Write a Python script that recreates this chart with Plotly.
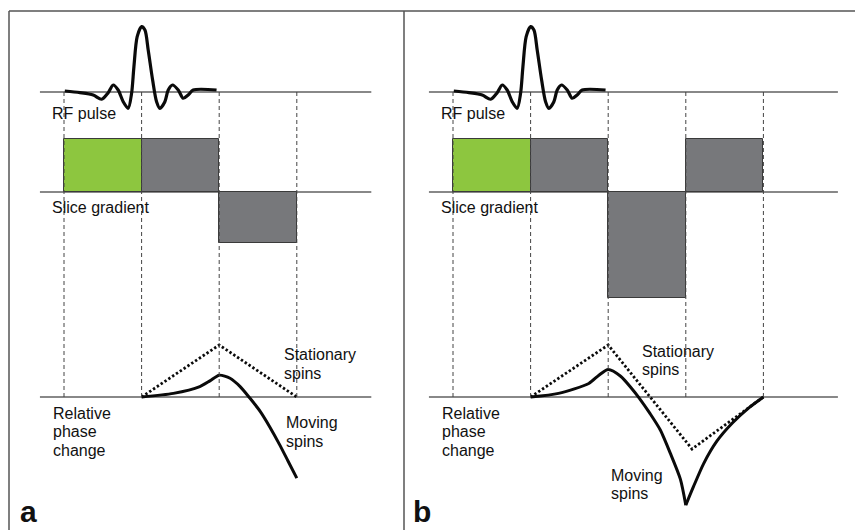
import plotly.graph_objects as go

# ---------------- data (time in gradient-lobe units, amplitudes relative) ----------------
rf_t = [0.01, 0.205, 0.376, 0.485, 0.57, 0.634, 0.698, 0.763, 0.827, 0.871, 0.901, 0.943,
        1.0, 1.043, 1.085, 1.142, 1.193, 1.236, 1.30, 1.343, 1.399, 1.472, 1.536, 1.60,
        1.665, 1.966]
rf_amp = [0.015, -0.01, -0.045, -0.11, -0.01, 0.106, 0.03, -0.147, -0.247, -0.02, 0.383, 0.838,
          0.99, 0.939, 0.636, 0.182, -0.147, -0.247, -0.147, 0.03, 0.106, 0.03, -0.095, -0.045,
          0.03, 0.03]

grad_a = [1, 1, -0.96]
grad_b = [1, 1, -2, 1]
lobe_kind_a = ["slice", "rephase", "dephase"]
lobe_kind_b = ["slice", "rephase", "dephase", "rephase"]

stat_a_t = [1, 2, 3]
stat_a = [0, 1, 0]
move_a_t = [1.0, 1.41, 1.75, 1.88, 2.0, 2.14, 2.27, 2.40, 2.53, 2.65, 2.78, 2.89, 3.0]
move_a = [0, 0.07, 0.2, 0.31, 0.42, 0.36, 0.2, -0.03, -0.28, -0.57, -0.92, -1.24, -1.56]

stat_b_t = [1, 2, 3.08, 4]
stat_b = [0, 1, -1, 0]
move_b_t = [1.0, 1.36, 1.75, 1.88, 2.0, 2.16, 2.30, 2.40, 2.54, 2.67, 2.80, 2.93, 3.0,
            3.10, 3.23, 3.40, 3.60, 3.82, 4.0]
move_b = [0, 0.07, 0.26, 0.42, 0.53, 0.4, 0.17, -0.02, -0.32, -0.63, -1.08, -1.58, -2.08,
          -1.72, -1.28, -0.85, -0.5, -0.2, 0]
move_b_vertex = 12

row_labels = ["RF pulse", "Slice gradient"]
phase_label = ["Relative", "phase", "change"]
stat_label = ["Stationary", "spins"]
move_label = ["Moving", "spins"]
panel_labels = ["a", "b"]

# ---------------- layout geometry (pixels) ----------------
W, H = 855, 530
PX = 77.6                      # pixels per lobe
SPLIT = 404                    # panel separator
ORIG_A, ORIG_B = 64, 453       # pixel of t = 0
RF_BASE, RF_SCALE = 92, 66
GR_BASE, GR_SCALE = 192, 53
PH_BASE, PH_SCALE = 397, 52

GREEN = "#8dc63f"
GREY = "#77787b"
INK = "#0a0a0a"
TXT = "#111111"
LINE = "#606060"
FONT = "Liberation Sans, Arial, sans-serif"


def xrange(orig, left, right):
    return [(left - orig) / PX, (right - orig) / PX]


def yrange(base, scale):
    return [(base - H) / scale, base / scale]


fig = go.Figure()

color_map = {"slice": GREEN, "rephase": GREY, "dephase": GREY}

for xa, grad, kinds in [("x", grad_a, lobe_kind_a), ("x2", grad_b, lobe_kind_b)]:
    fig.add_trace(go.Bar(
        x=[i + 0.5 for i in range(len(grad))], y=grad, width=1, base=0,
        marker=dict(color=[color_map[k] for k in kinds], line=dict(color="#3a3a3a", width=1)),
        xaxis=xa, yaxis="y2", showlegend=False, hoverinfo="skip"))

for xa in ["x", "x2"]:
    fig.add_trace(go.Scatter(
        x=rf_t, y=rf_amp, mode="lines", line=dict(color=INK, width=3.2, shape="spline", smoothing=0.8),
        xaxis=xa, yaxis="y", showlegend=False, hoverinfo="skip"))

dot = dict(color=INK, width=2.8, dash="2.4px,2.2px")
fig.add_trace(go.Scatter(x=stat_a_t, y=stat_a, mode="lines", line=dot,
                         xaxis="x", yaxis="y3", showlegend=False, hoverinfo="skip"))
fig.add_trace(go.Scatter(x=stat_b_t, y=stat_b, mode="lines", line=dot,
                         xaxis="x2", yaxis="y3", showlegend=False, hoverinfo="skip"))

solid = dict(color=INK, width=3, shape="spline", smoothing=0.7)
fig.add_trace(go.Scatter(x=move_a_t, y=move_a, mode="lines", line=solid,
                         xaxis="x", yaxis="y3", showlegend=False, hoverinfo="skip"))
fig.add_trace(go.Scatter(x=move_b_t[:move_b_vertex + 1], y=move_b[:move_b_vertex + 1], mode="lines",
                         line=solid, xaxis="x2", yaxis="y3", showlegend=False, hoverinfo="skip"))
fig.add_trace(go.Scatter(x=move_b_t[move_b_vertex:], y=move_b[move_b_vertex:], mode="lines",
                         line=solid, xaxis="x2", yaxis="y3", showlegend=False, hoverinfo="skip"))

shapes = []
# baselines
for xa, n in [("x", len(grad_a)), ("x2", len(grad_b))]:
    for ya in ["y", "y2", "y3"]:
        shapes.append(dict(type="line", xref=xa, yref=ya, x0=-0.31, x1=n + 0.96, y0=0, y1=0,
                           line=dict(color=LINE, width=1.6), layer="below"))
    # dashed verticals
    for k in range(n + 1):
        shapes.append(dict(type="line", xref=xa, yref="paper", x0=k, x1=k,
                           y0=1 - PH_BASE / H, y1=1 - RF_BASE / H,
                           line=dict(color="#444444", width=1, dash="4px,3px"), layer="above"))
# frame lines
frame = dict(color="#555555", width=1.5)
shapes.append(dict(type="line", xref="paper", yref="paper", x0=9 / W, x1=1, y0=1 - 11 / H, y1=1 - 11 / H, line=frame))
shapes.append(dict(type="line", xref="paper", yref="paper", x0=9 / W, x1=9 / W, y0=0, y1=1 - 11 / H, line=frame))
shapes.append(dict(type="line", xref="paper", yref="paper", x0=SPLIT / W, x1=SPLIT / W, y0=0, y1=1 - 11 / H, line=frame))

ann = []


def label(text, px, py, size=16, bold=False, yanchor="middle"):
    ann.append(dict(text=f"<b>{text}</b>" if bold else text, xref="paper", yref="paper",
                    x=px / W, y=1 - py / H, xanchor="left", yanchor=yanchor, showarrow=False,
                    font=dict(family=FONT, size=size, color=TXT)))


for dx in [0, 389]:
    label(row_labels[0], 50 + dx, 113)
    label(row_labels[1], 50 + dx, 207)
    for i, t in enumerate(phase_label):
        label(t, 51 + dx, 413 + 18.5 * i)

for i, t in enumerate(stat_label):
    label(t, 282, 354 + 19 * i)
for i, t in enumerate(move_label):
    label(t, 284, 422 + 19 * i)
for i, t in enumerate(stat_label):
    label(t, 640, 351 + 18 * i)
for i, t in enumerate(move_label):
    label(t, 609, 475 + 18 * i)

label(panel_labels[0], 18, 530, size=30, bold=True, yanchor="bottom")
label(panel_labels[1], 411, 530, size=30, bold=True, yanchor="bottom")

ax_common = dict(visible=False, showgrid=False, zeroline=False, fixedrange=True)
fig.update_layout(
    width=W, height=H, margin=dict(l=0, r=0, t=0, b=0),
    paper_bgcolor="white", plot_bgcolor="rgba(0,0,0,0)",
    barmode="overlay", bargap=0,
    xaxis=dict(domain=[0, SPLIT / W], range=xrange(ORIG_A, 0, SPLIT), **ax_common),
    xaxis2=dict(domain=[SPLIT / W, 1], range=xrange(ORIG_B, SPLIT, W), **ax_common),
    yaxis=dict(domain=[0, 1], range=yrange(RF_BASE, RF_SCALE), **ax_common),
    yaxis2=dict(domain=[0, 1], range=yrange(GR_BASE, GR_SCALE), **ax_common),
    yaxis3=dict(domain=[0, 1], range=yrange(PH_BASE, PH_SCALE), **ax_common),
    shapes=shapes, annotations=ann,
)

fig.write_html("out.html", config={"displayModeBar": False},
               post_script="document.body.style.margin='0';document.body.style.overflow='hidden';")
